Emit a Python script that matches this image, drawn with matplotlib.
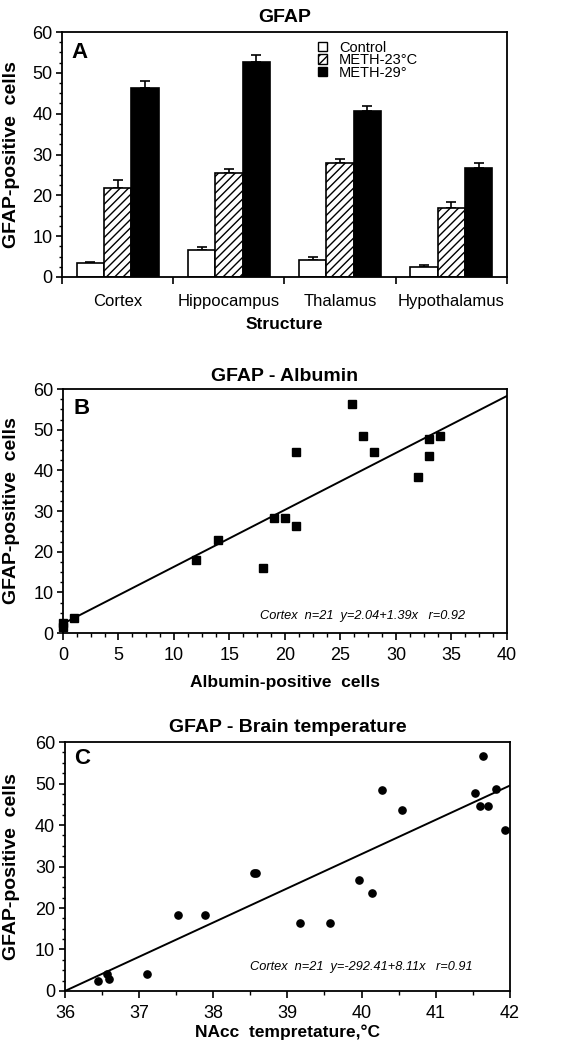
import matplotlib
matplotlib.use("Agg")
import matplotlib.pyplot as plt
import numpy as np
from matplotlib.ticker import MultipleLocator, FixedLocator, NullFormatter
from matplotlib.patches import Patch

plt.rcParams['font.family'] = ['Liberation Sans', 'DejaVu Sans']
plt.rcParams['hatch.linewidth'] = 1.0

# ---- Panel A data ----
categories = ['Cortex', 'Hippocampus', 'Thalamus', 'Hypothalamus']
control = [3.4, 6.6, 4.2, 2.5]
control_err = [0.35, 0.65, 0.75, 0.45]
meth23 = [21.9, 25.5, 27.8, 16.9]
meth23_err = [1.8, 1.0, 1.0, 1.5]
meth29 = [46.3, 52.6, 40.6, 26.7]
meth29_err = [1.8, 1.7, 1.3, 1.3]
series_labels = ['Control', 'METH-23°C', 'METH-29°']

# ---- Panel B data ----
alb_x = [0, 0, 1, 12, 14, 18, 19, 20, 21, 21, 26, 27, 28, 32, 33, 33, 34]
alb_y = [2.5, 1.4, 3.7, 18.0, 22.9, 16.0, 28.2, 28.2, 26.4, 44.5, 56.4, 48.4, 44.6, 38.4, 47.7, 43.6, 48.5]
fit_b_x = [0, 40]
fit_b_y = [2.3, 58.3]
note_b = 'Cortex  n=21  y=2.04+1.39x   r=0.92'

# ---- Panel C data ----
temp_x = [36.45, 36.57, 36.59, 37.10, 37.52, 37.89, 38.55, 38.57, 39.17, 39.57,
          39.96, 40.14, 40.27, 40.54, 41.53, 41.60, 41.64, 41.70, 41.81, 41.94]
temp_y = [2.3, 4.2, 3.0, 4.2, 18.4, 18.4, 28.4, 28.4, 16.4, 16.4,
          26.7, 23.5, 48.5, 43.5, 47.6, 44.7, 56.7, 44.7, 48.8, 38.7]
fit_c_x = [36, 42]
fit_c_y = [0, 49.5]
note_c = 'Cortex  n=21  y=-292.41+8.11x   r=0.91'

fig = plt.figure(figsize=(5.8, 10.5), dpi=100)

TICK_FS = 13
CAT_FS = 12
LAB_FS = 14
XLAB_FS = 12.5
TITLE_FS = 14
LETTER_FS = 16
NOTE_FS = 9.2


def style_axes(ax):
    for s in ax.spines.values():
        s.set_linewidth(1.3)
    ax.tick_params(which='major', direction='out', length=4, width=1.2,
                   labelsize=TICK_FS, pad=3)
    ax.tick_params(which='minor', direction='out', length=2.5, width=1.0)
    ax.tick_params(axis='x', which='major', length=5, pad=5)
    ax.tick_params(axis='x', which='minor', length=3)


# ================= Panel A =================
axA = fig.add_axes([0.107, 0.7362, 0.767, 0.2333])
x = np.arange(len(categories))
w = 0.245
axA.bar(x - w, control, w, facecolor='white', edgecolor='black', linewidth=1.2, zorder=2)
axA.bar(x, meth23, w, facecolor='white', edgecolor='black', hatch='////', linewidth=1.2, zorder=2)
axA.bar(x + w, meth29, w, facecolor='black', edgecolor='black', linewidth=1.2, zorder=2)
for off, vals, errs in [(-w, control, control_err), (0, meth23, meth23_err), (w, meth29, meth29_err)]:
    axA.errorbar(x + off, vals, yerr=[np.zeros(len(errs)), errs], fmt='none',
                 ecolor='black', elinewidth=1.2, capsize=3.8, capthick=1.2, zorder=1)
axA.set_xlim(-0.5, len(categories) - 0.5)
axA.set_ylim(0, 60)
axA.yaxis.set_major_locator(MultipleLocator(10))
axA.yaxis.set_minor_locator(MultipleLocator(2.5))
style_axes(axA)
axA.xaxis.set_major_locator(FixedLocator(np.arange(-0.5, len(categories), 1.0)))
axA.xaxis.set_major_formatter(NullFormatter())
axA.set_xticks(x, categories, minor=True)
axA.tick_params(axis='x', which='minor', length=0, labelsize=CAT_FS, pad=12)
axA.set_title('GFAP', fontsize=TITLE_FS, fontweight='bold', pad=7)
axA.set_ylabel('GFAP-positive  cells', fontsize=LAB_FS, fontweight='bold')
axA.yaxis.set_label_coords(-0.095, 0.5)
axA.set_xlabel('Structure', fontsize=XLAB_FS, fontweight='bold')
axA.xaxis.set_label_coords(0.5, -0.165)
axA.text(0.02, 0.915, 'A', transform=axA.transAxes, fontsize=LETTER_FS, fontweight='bold', va='center', ha='left')
handles = [Patch(facecolor='white', edgecolor='black', linewidth=1.0),
           Patch(facecolor='white', edgecolor='black', hatch='////', linewidth=1.0),
           Patch(facecolor='black', edgecolor='black', linewidth=1.0)]
axA.legend(handles, series_labels, loc='upper left', bbox_to_anchor=(0.575, 0.965),
           frameon=False, fontsize=10.5, handlelength=0.65, handleheight=0.65,
           handletextpad=0.8, labelspacing=-0.1, borderpad=0, borderaxespad=0)

# ================= Panel B =================
axB = fig.add_axes([0.1086, 0.3971, 0.7655, 0.2324])
axB.plot(fit_b_x, fit_b_y, color='black', lw=1.4, zorder=2)
axB.plot(alb_x, alb_y, 's', color='black', markersize=5.2, zorder=3, clip_on=False)
axB.set_xlim(0, 40)
axB.set_ylim(0, 60)
axB.xaxis.set_major_locator(MultipleLocator(5))
axB.xaxis.set_minor_locator(MultipleLocator(1.25))
axB.yaxis.set_major_locator(MultipleLocator(10))
axB.yaxis.set_minor_locator(MultipleLocator(2.5))
style_axes(axB)
axB.set_title('GFAP - Albumin', fontsize=TITLE_FS, fontweight='bold', pad=6)
axB.set_ylabel('GFAP-positive  cells', fontsize=LAB_FS, fontweight='bold')
axB.yaxis.set_label_coords(-0.097, 0.5)
axB.set_xlabel('Albumin-positive  cells', fontsize=XLAB_FS, fontweight='bold')
axB.xaxis.set_label_coords(0.5, -0.17)
axB.text(0.023, 0.922, 'B', transform=axB.transAxes, fontsize=LETTER_FS, fontweight='bold', va='center', ha='left')
axB.text(0.444, 0.07, note_b, transform=axB.transAxes, fontsize=NOTE_FS, style='italic',
         va='center', ha='left')

# ================= Panel C =================
axC = fig.add_axes([0.112, 0.0562, 0.767, 0.2371])
axC.plot(fit_c_x, fit_c_y, color='black', lw=1.4, zorder=2)
axC.plot(temp_x, temp_y, 'o', color='black', markersize=5.2, zorder=3)
axC.set_xlim(36, 42)
axC.set_ylim(0, 60)
axC.xaxis.set_major_locator(MultipleLocator(1))
axC.xaxis.set_minor_locator(MultipleLocator(0.5))
axC.yaxis.set_major_locator(MultipleLocator(10))
axC.yaxis.set_minor_locator(MultipleLocator(2.5))
style_axes(axC)
axC.set_title('GFAP - Brain temperature', fontsize=TITLE_FS, fontweight='bold', pad=7)
axC.set_ylabel('GFAP-positive  cells', fontsize=LAB_FS, fontweight='bold')
axC.yaxis.set_label_coords(-0.101, 0.5)
axC.set_xlabel('NAcc  tempretature,°C', fontsize=XLAB_FS, fontweight='bold')
axC.xaxis.set_label_coords(0.5, -0.135)
axC.text(0.02, 0.935, 'C', transform=axC.transAxes, fontsize=LETTER_FS, fontweight='bold', va='center', ha='left')
axC.text(0.416, 0.096, note_c, transform=axC.transAxes, fontsize=NOTE_FS, style='italic',
         va='center', ha='left')

fig.savefig('out.png', dpi=100)
